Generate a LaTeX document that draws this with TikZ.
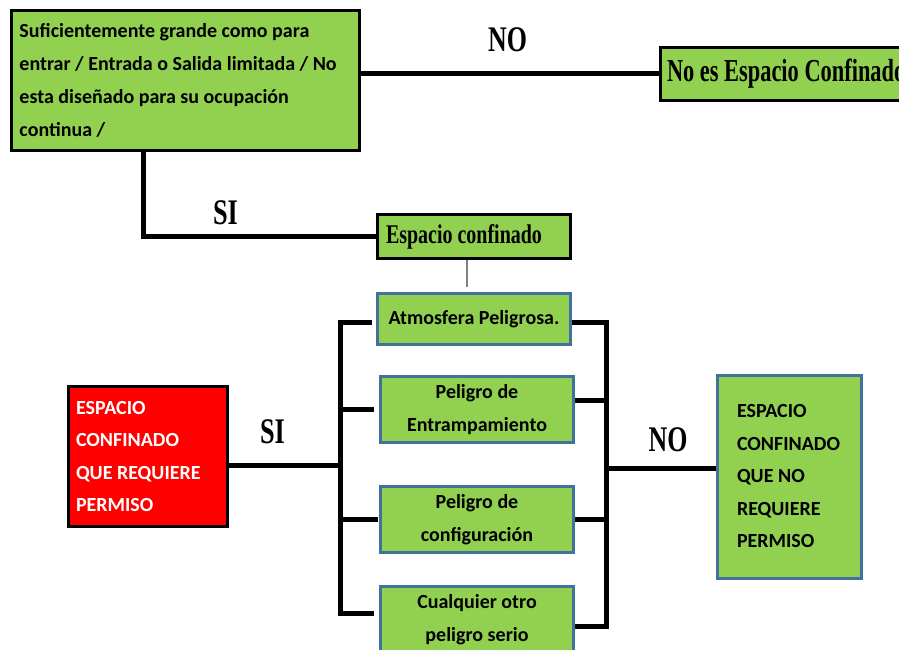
\documentclass[tikz,border=0pt]{standalone}
\usepackage{fontspec}
\setmainfont{Carlito}
\newfontfamily\tnr{Liberation Serif}
\usepackage{graphicx}
\definecolor{lgreen}{HTML}{92D050}
\definecolor{bblue}{HTML}{41719C}
\definecolor{rred}{HTML}{FF0000}
\begin{document}
\begin{tikzpicture}[x=1pt,y=-1pt,
  cal/.style={font=\bfseries\fontsize{20}{32.5}\selectfont},
  blk/.style={draw=black, line width=3pt, fill=lgreen, inner sep=0pt},
  blu/.style={draw=bblue, line width=3pt, fill=lgreen, inner sep=0pt, align=flush center, cal},
  conn/.style={line width=5pt},
  thinl/.style={draw=gray, line width=1.5pt},
  lbl/.style={font=\tnr\bfseries\fontsize{36}{36}\selectfont, inner sep=0pt, anchor=base}
]
\useasboundingbox (0,0) rectangle (899,650);

% nodes
\node[blk, minimum width=348, minimum height=140, text width=332, align=flush left,
      font=\bfseries\fontsize{20}{33}\selectfont] (top) at (185.5,80.5)
  {Suficientemente grande como para\\entrar / Entrada o Salida limitada / No\\esta diseñado para su ocupación\\continua /};

\node[blk, minimum width=250, minimum height=53, text width=236, align=flush left] (noes) at (785,74)
  {\scalebox{0.7}[1]{\tnr\bfseries\fontsize{32}{32}\selectfont No es Espacio Confinado}};

\node[blk, minimum width=193, minimum height=44, text width=176, align=flush left] (conf) at (474,236.5)
  {\scalebox{0.74}[1]{\tnr\bfseries\fontsize{27}{27}\selectfont Espacio confinado}};

\node[blu, minimum width=193, minimum height=51] (atm) at (474,319) {Atmosfera Peligrosa.};
\node[blu, minimum width=193, minimum height=66] (entr) at (477,409.5) {Peligro de\\Entrampamiento};
\node[blu, minimum width=193, minimum height=66] (cfg) at (477,519.5) {Peligro de\\configuración};
\node[blu, minimum width=193, minimum height=66] (cual) at (477,619.5) {Cualquier otro\\peligro serio};

\node[draw=black, line width=3pt, fill=rred, text=white, inner sep=0pt, minimum width=159,
      minimum height=140, text width=144, align=flush left, cal] (red) at (148,456.5)
  {ESPACIO\\CONFINADO\\QUE REQUIERE\\PERMISO};

\node[draw=bblue, line width=3pt, fill=lgreen, inner sep=0pt, minimum width=144,
      minimum height=203, text width=104, align=flush left, cal] (nreq) at (789,476.5)
  {ESPACIO\\CONFINADO\\QUE NO\\REQUIERE\\PERMISO};

% labels
\node[lbl] (no1) at (507.5,52) {\scalebox{0.72}[1]{NO}};
\node[lbl] (si1) at (225.5,224) {\scalebox{0.73}[1]{SI}};
\node[lbl] (si2) at (272.5,443) {\scalebox{0.73}[1]{SI}};
\node[lbl] (no2) at (668,451) {\scalebox{0.72}[1]{NO}};

% connectors
\draw[conn] (top.east |- noes.west) -- (noes.west);
\coordinate (sitop) at (143,151);
\draw[conn] (sitop) |- (conf.west);
\draw[thinl] ([xshift=-7pt]conf.south) -- ++(0,27);

\coordinate (lt) at (340,322);
\coordinate (lb) at (340,613);
\draw[conn] ([xshift=-4pt,yshift=-3pt]atm.west) -| (lb) -- ([xshift=-5pt,yshift=6.5pt]cual.west);
\draw[conn] (lt |- entr.west) -- ([xshift=-5pt]entr.west);
\draw[conn] ([xshift=3pt]lt |- cfg.west) -- ([xshift=-1pt]cfg.west);
\coordinate (redout) at ([yshift=-8.5pt]red.east);
\draw[conn] (redout) -- (redout -| lt);

\coordinate (rt) at (606,322);
\coordinate (rb) at (606,626);
\draw[conn] ([yshift=-3pt]atm.east) -| (rb) -- ([yshift=-6.5pt]cual.east);
\coordinate (entrout) at ([yshift=9.5pt]entr.east);
\draw[conn] (entrout) -- (entrout -| rt);
\draw[conn] (cfg.east) -- (cfg.east -| rt);
\coordinate (nin) at ([yshift=8.5pt]nreq.west);
\draw[conn] (nin -| rt) -- (nin);
\end{tikzpicture}
\end{document}
